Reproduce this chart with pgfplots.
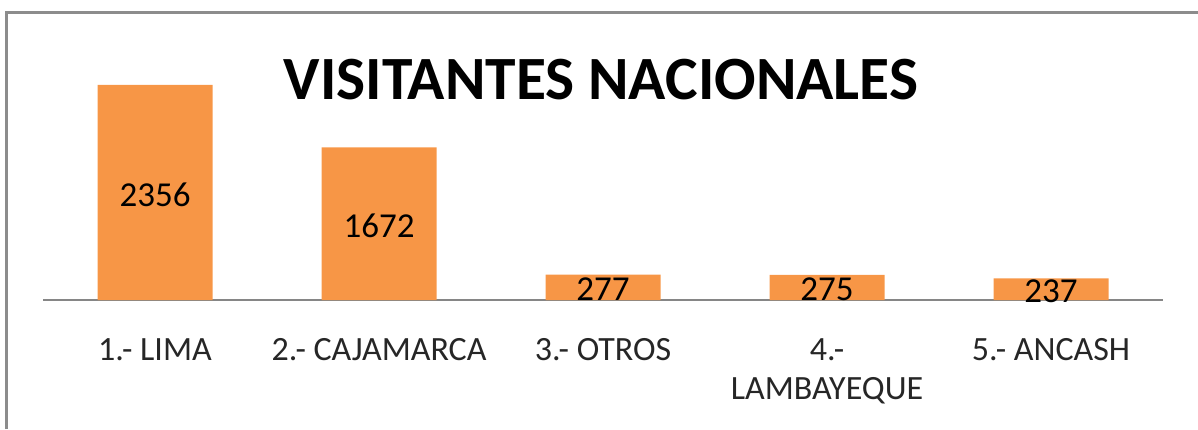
\documentclass[border=0pt]{standalone}
\usepackage{fontspec}
\setmainfont{Carlito}
\usepackage{pgfplots}
\pgfplotsset{compat=1.18}
\definecolor{barorange}{HTML}{F79646}
\definecolor{framegray}{HTML}{8C8C8C}
\definecolor{axisgray}{HTML}{868686}
\begin{document}
\begin{tikzpicture}[x=1pt,y=1pt]
\useasboundingbox (0,0) rectangle (1198,429);
\draw[framegray, line width=3pt] (6.5,0) -- (6.5,416.5) -- (1200,416.5);
\node[inner sep=0pt, font=\fontsize{61.5}{61.5}\selectfont\bfseries] at (601,349.5) {VISITANTES NACIONALES};
\begin{axis}[
  at={(43pt,129pt)}, anchor=south west,
  scale only axis, width=1120pt, height=215pt,
  xmin=-0.5, xmax=4.5, ymin=0, ymax=2356,
  axis x line*=bottom, axis y line=none,
  x axis line style={axisgray, line width=1.5pt, -},
  xtick={0,1,2,3,4},
  xticklabels={1.- LIMA, 2.- CAJAMARCA, 3.- OTROS, {4.-\\LAMBAYEQUE}, 5.- ANCASH},
  major tick length=0pt,
  xticklabel style={align=center, inner sep=0pt, yshift=-38pt, font=\fontsize{34}{39}\selectfont, text=black!85},
  /pgf/number format/assume math mode=true,
  /pgf/number format/1000 sep={},
  clip=false,
  ybar, bar width=115pt,
  visualization depends on=y \as \rawy,
  nodes near coords,
  every node near coord/.append style={anchor=center, inner sep=0pt, text=black, font=\fontsize{35}{35}\selectfont, shift={(axis direction cs:0,-\rawy/2)}, yshift=-2pt},
]
\addplot[fill=barorange, draw=none] coordinates {(0,2356) (1,1672) (2,277) (3,275) (4,237)};
\end{axis}
\end{tikzpicture}
\end{document}
